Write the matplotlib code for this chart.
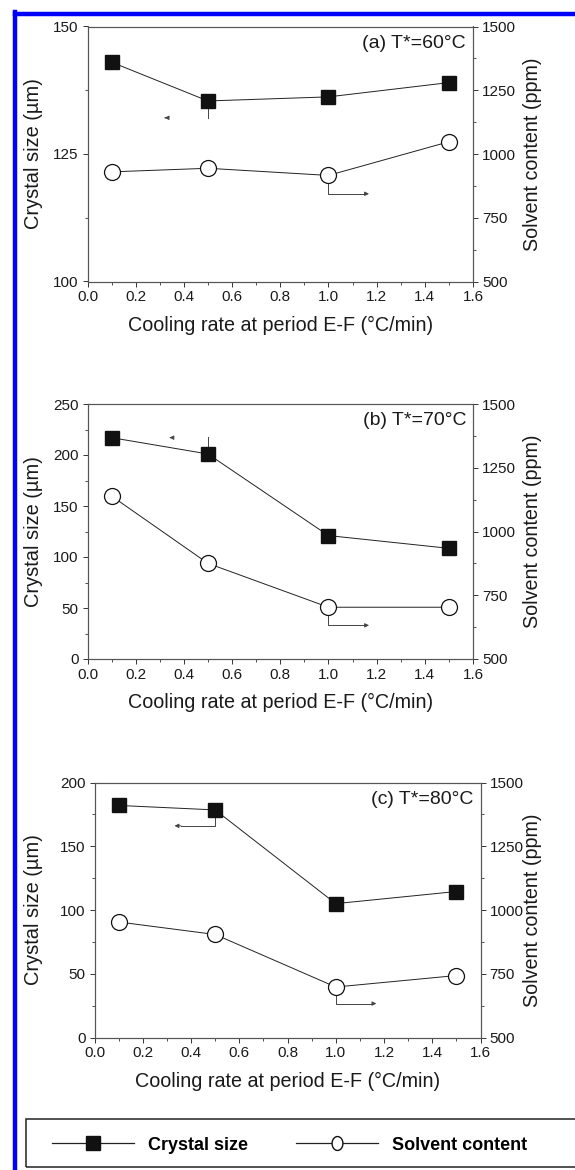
import numpy as np
import matplotlib
matplotlib.use("Agg")
from matplotlib import pyplot as plt
from matplotlib.lines import Line2D
from matplotlib.path import Path
from matplotlib.ticker import MultipleLocator

plt.rcParams['font.family'] = ['Liberation Sans', 'DejaVu Sans']

# data
rate = [0.1, 0.5, 1.0, 1.5]
size_60 = [143.0, 135.4, 136.2, 139.0]
solvent_60 = [930, 944, 916, 1048]
size_70 = [217, 201, 121, 108.5]
solvent_70 = [1139, 875, 703, 703]
size_80 = [182, 178.5, 105, 114.5]
solvent_80 = [953, 904, 698, 743]

titles = ['(a) T*=60°C', '(b) T*=70°C', '(c) T*=80°C']
size_lims = [(100, 150), (0, 250), (0, 200)]
size_major = [25, 50, 50]

fig = plt.figure(figsize=(5.75, 11.7), dpi=100)
W, H = 575, 1170

# axes boxes in pixels: left, top, right, bottom
boxes = [(87.5, 26.5, 473, 281.5), (87.5, 404, 473, 659), (94.5, 782.5, 480.5, 1037.5)]

line_col = '#222222'
arr_col = '#444444'
txt_col = '#1a1a1a'


def add_panel(box, size, solvent, title, ylim, major):
    l, t, r, b = box
    ax = fig.add_axes([l / W, (H - b) / H, (r - l) / W, (b - t) / H])
    ax2 = ax.twinx()
    ax.plot(rate, size, '-', color=line_col, lw=0.7, marker='s', ms=10.5,
            mfc='#111111', mec='#111111', zorder=3)
    ax2.plot(rate, solvent, '-', color=line_col, lw=0.7, marker='o', ms=11.5,
             mfc='white', mec='#111111', mew=0.9, zorder=3)
    ax.set_xlim(0, 1.6)
    ax.set_ylim(*ylim)
    ax2.set_ylim(500, 1500)
    ax.xaxis.set_major_locator(MultipleLocator(0.2))
    ax.xaxis.set_minor_locator(MultipleLocator(0.1))
    ax.yaxis.set_major_locator(MultipleLocator(major))
    ax.yaxis.set_minor_locator(MultipleLocator(major / 2))
    ax2.yaxis.set_major_locator(MultipleLocator(250))
    ax2.yaxis.set_minor_locator(MultipleLocator(125))
    for a in (ax, ax2):
        a.tick_params(which='major', length=3.4, width=0.7, labelsize=11,
                      pad=3, color='#333333', labelcolor=txt_col)
        a.tick_params(which='minor', length=2, width=0.6, color='#333333')
        for s in a.spines.values():
            s.set_color('#555555')
            s.set_linewidth(0.8)
    ax.set_xlabel('Cooling rate at period E-F (°C/min)', fontsize=14.2,
                  color=txt_col)
    ax.set_ylabel('Crystal size (µm)', fontsize=14.4, color=txt_col)
    ax2.set_ylabel('Solvent content (ppm)', fontsize=14.2, color=txt_col,
                   rotation=90)
    w = r - l
    ax.xaxis.set_label_coords(0.5, -34 / (b - t))
    ax.yaxis.set_label_coords((43 - l) / w, 0.5)
    ax2.yaxis.set_label_coords((523 - l) / w, 0.5)
    ax.text(0.982, 0.934, title, transform=ax.transAxes, ha='right',
            va='center', fontsize=14, color=txt_col)
    ax.set_zorder(ax2.get_zorder() + 1)
    ax.patch.set_visible(False)
    return ax, ax2


ax_a, ax_a2 = add_panel(boxes[0], size_60, solvent_60, titles[0],
                        size_lims[0], size_major[0])
ax_b, ax_b2 = add_panel(boxes[1], size_70, solvent_70, titles[1],
                        size_lims[1], size_major[1])
ax_c, ax_c2 = add_panel(boxes[2], size_80, solvent_80, titles[2],
                        size_lims[2], size_major[2])

arrow = dict(arrowstyle='-|>', color=arr_col, lw=0.7, mutation_scale=6)

# (a) pointer arrows
ax_a.plot([0.5, 0.5], [size_60[1], 132.1], color=arr_col, lw=0.7)
ax_a.annotate('', xy=(0.32, 132.1), xytext=(0.335, 132.1), arrowprops=arrow)
ax_a2.plot([1.0, 1.0, 1.15], [solvent_60[2], 844, 844], color=arr_col, lw=0.7)
ax_a2.annotate('', xy=(1.18, 844), xytext=(1.14, 844), arrowprops=arrow)

# (b) pointer arrows
ax_b.plot([0.5, 0.5], [size_70[1], 218], color=arr_col, lw=0.7)
ax_b.annotate('', xy=(0.34, 217), xytext=(0.355, 217), arrowprops=arrow)
ax_b2.plot([1.0, 1.0, 1.15], [solvent_70[2], 632, 632], color=arr_col, lw=0.7)
ax_b2.annotate('', xy=(1.18, 632), xytext=(1.14, 632), arrowprops=arrow)

# (c) pointer arrows
ax_c.plot([0.5, 0.5, 0.36], [size_80[1], 166, 166], color=arr_col, lw=0.7)
ax_c.annotate('', xy=(0.32, 166), xytext=(0.37, 166), arrowprops=arrow)
ax_c2.plot([1.0, 1.0, 1.15], [solvent_80[2], 633, 633], color=arr_col, lw=0.7)
ax_c2.annotate('', xy=(1.18, 633), xytext=(1.14, 633), arrowprops=arrow)

# legend box at the bottom
fig.add_artist(plt.Rectangle((26 / W, (H - 1167) / H), 1.0, 48 / H,
                             transform=fig.transFigure, fill=False,
                             ec='#222222', lw=1.1))
t = np.linspace(0, 2 * np.pi, 60)
oval = Path(np.column_stack([0.78 * np.cos(t), np.sin(t)]), closed=True)
handles = [
    Line2D([], [], color='#222222', lw=0.9, marker='s', ms=9.5,
           mfc='#111111', mec='#111111'),
    Line2D([], [], color='#222222', lw=0.9, marker=oval, ms=10,
           mfc='white', mec='#111111', mew=1.0),
]
fig.legend(handles, ['Crystal size', 'Solvent content'], ncol=2,
           loc='center left', bbox_to_anchor=(36 / W, (H - 1145) / H),
           frameon=False, handlelength=4.5, columnspacing=2.7,
           handletextpad=0.78, prop=dict(size=13, weight='bold'))

# blue frame from the source page
fig.add_artist(Line2D([15 / W, 1.0], [(H - 14) / H, (H - 14) / H],
                      transform=fig.transFigure, color='#0000ff', lw=3.2))
fig.add_artist(Line2D([15 / W, 15 / W], [0, (H - 12) / H],
                      transform=fig.transFigure, color='#0000ff', lw=3.2))

fig.savefig('out.png', dpi=100)
